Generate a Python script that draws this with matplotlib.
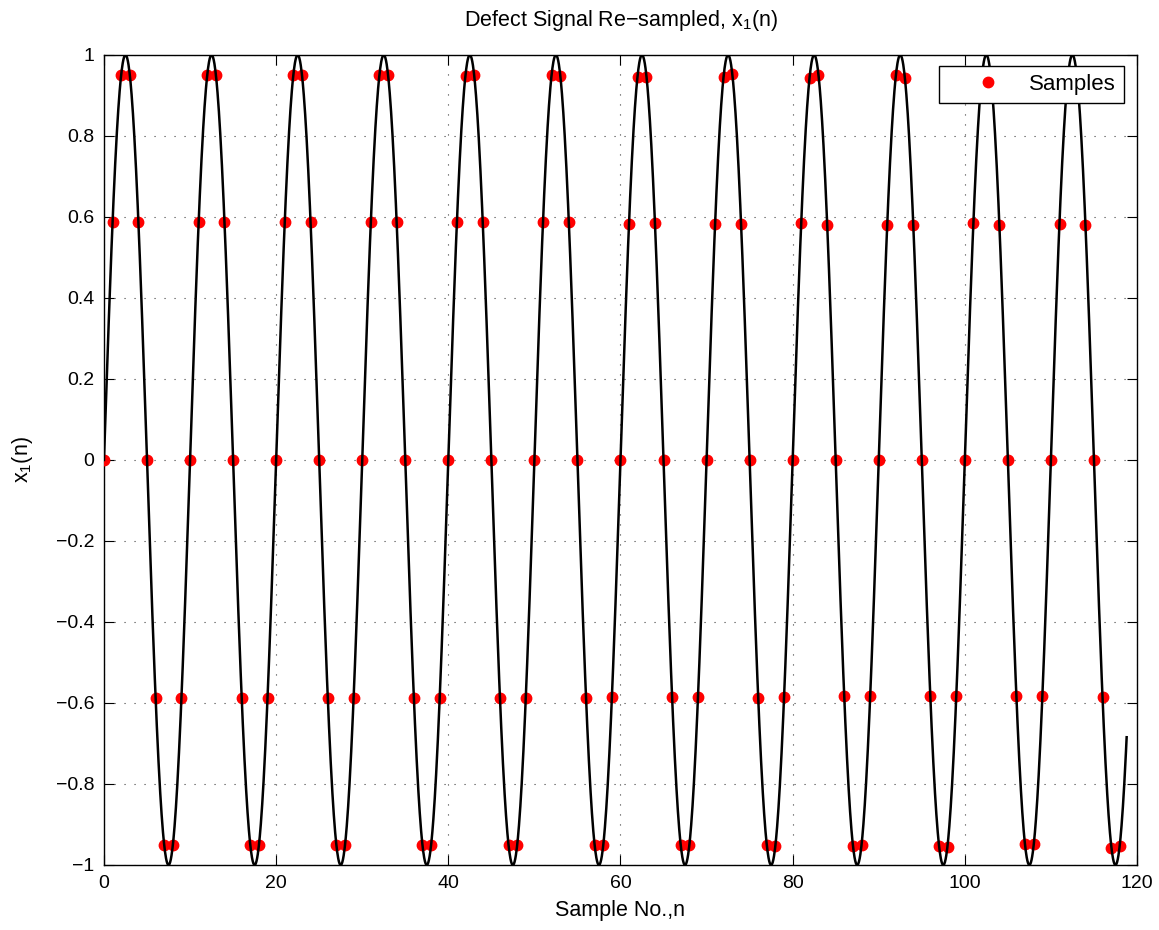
#Re-sampled defect signal: continuous sine with the red sample points on top.
#Sample values (n = 0..118).

import numpy as np
import matplotlib
matplotlib.use('Agg')
import matplotlib.pyplot as plt
from matplotlib.ticker import FuncFormatter

plt.rcParams['font.family'] = 'Liberation Sans'
plt.rcParams['mathtext.fontset'] = 'custom'
plt.rcParams['mathtext.rm'] = 'Liberation Sans'
plt.rcParams['mathtext.it'] = 'Liberation Sans:italic'

#  Sample numbers and the values of the red dots, one row per period of 10
n_samples = list(range(119))
x1_samples = [
    0, 0.587, 0.951, 0.951, 0.587, 0, -0.588, -0.951, -0.951, -0.588,
    0, 0.587, 0.951, 0.951, 0.587, 0, -0.588, -0.951, -0.951, -0.588,
    0, 0.587, 0.951, 0.951, 0.587, 0, -0.588, -0.951, -0.951, -0.588,
    0, 0.587, 0.951, 0.951, 0.587, 0, -0.588, -0.951, -0.951, -0.588,
    0, 0.587, 0.947, 0.951, 0.587, 0, -0.588, -0.951, -0.951, -0.588,
    0, 0.587, 0.950, 0.948, 0.587, 0, -0.588, -0.951, -0.951, -0.585,
    0, 0.582, 0.946, 0.946, 0.584, 0, -0.585, -0.951, -0.951, -0.585,
    0, 0.582, 0.946, 0.952, 0.582, 0, -0.588, -0.951, -0.954, -0.585,
    0, 0.584, 0.944, 0.950, 0.580, 0, -0.583, -0.953, -0.950, -0.583,
    0, 0.580, 0.950, 0.944, 0.580, 0, -0.583, -0.953, -0.956, -0.583,
    0, 0.586, 0.950, 0.950, 0.580, 0, -0.583, -0.948, -0.948, -0.583,
    0, 0.582, 0.950, 0.950, 0.580, 0, -0.585, -0.957, -0.953,
]

#  The black curve: a sine (period, amplitude, last x)
curve_period = 10.0
curve_amplitude = 1.0
curve_end = 118.8

x_ticks = [0, 20, 40, 60, 80, 100, 120]
y_ticks = [-1, -0.8, -0.6, -0.4, -0.2, 0, 0.2, 0.4, 0.6, 0.8, 1]

t = np.linspace(0, curve_end, 3000)
curve = curve_amplitude * np.sin(2 * np.pi * t / curve_period)

fig = plt.figure(figsize=(11.59, 9.30), dpi=100)
ax = fig.add_axes([0.0897, 0.0699, 0.8913, 0.8710])

ax.plot(n_samples, x1_samples, 'o', color='red', markeredgecolor='red',
        markersize=7.5, label='Samples', zorder=3)
ax.plot(t, curve, color='black', linewidth=1.8, zorder=4)

ax.set_xlim(0, 120)
ax.set_ylim(-1, 1)
ax.set_xticks(x_ticks)
ax.set_yticks(y_ticks)
fmt = FuncFormatter(lambda v, p: ('%g' % (round(v, 1) + 0.0)).replace('-', '\u2212'))
ax.xaxis.set_major_formatter(fmt)
ax.yaxis.set_major_formatter(fmt)
ax.tick_params(direction='in', length=7, width=0.8, top=True, right=True,
               labelsize=14, pad=7, colors='black')

ax.set_axisbelow(True)
ax.grid(True, color='0.25', linewidth=0.8, linestyle=(0, (1, 8)))
for s in ax.spines.values():
    s.set_linewidth(1.0)
    s.set_color('black')

ax.set_xlabel('Sample No.,n', fontsize=15.5, labelpad=6)
ax.set_ylabel('x$_1$(n)', fontsize=15.5, labelpad=15)
ax.set_title('Defect Signal Re\u2212sampled, x$_1$(n)', fontsize=15.5, pad=21)

leg = ax.legend(loc='upper right', bbox_to_anchor=(0.9874, 0.9864), borderaxespad=0,
                fontsize=16, frameon=True, fancybox=False, framealpha=1,
                edgecolor='black', borderpad=0.35, handlelength=3.7,
                handletextpad=0.0, numpoints=1)
leg.get_frame().set_linewidth(1.0)
leg.set_zorder(10)

fig.savefig('out.png', dpi=100)
